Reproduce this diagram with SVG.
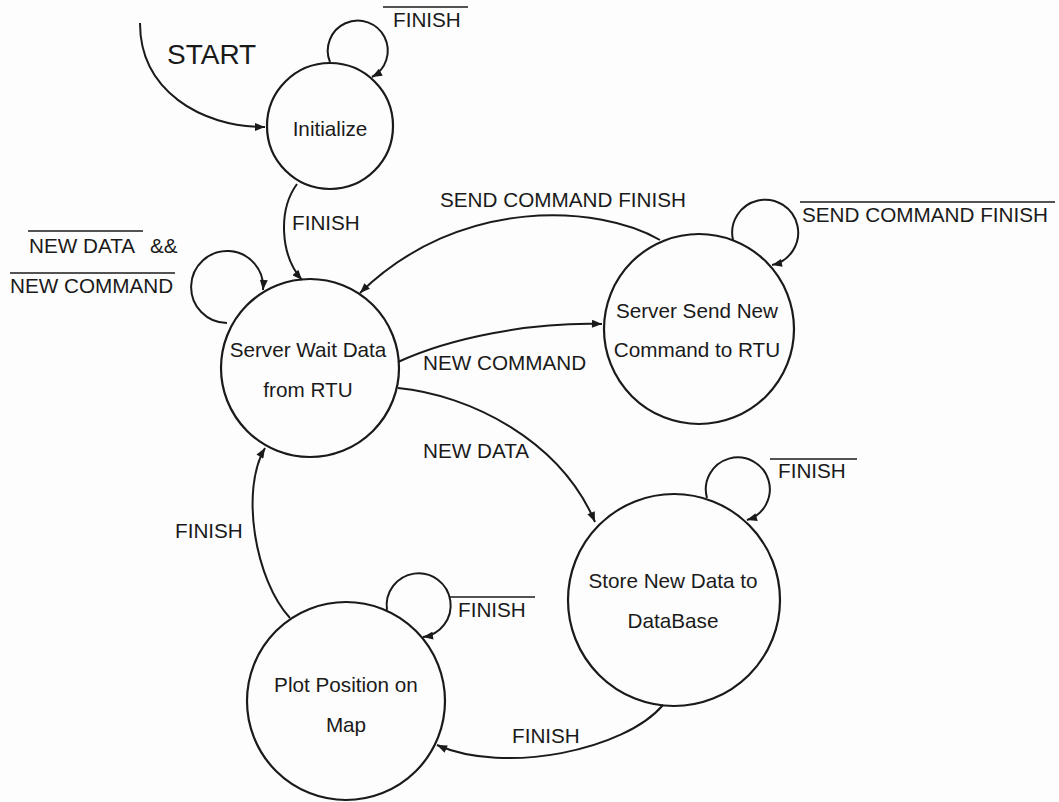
<svg xmlns="http://www.w3.org/2000/svg" width="1059" height="802" viewBox="0 0 1059 802">
<style>
.n{fill:none;stroke:#1a1a1a;stroke-width:2.2}
.c{fill:none;stroke:#1a1a1a;stroke-width:2}
.t{font-family:"Liberation Sans",Arial,sans-serif;font-size:20.7px;fill:#1a1a1a}
.m{text-anchor:middle}
.o{stroke:#1a1a1a;stroke-width:1.6}
</style>
<defs>
<marker id="a" markerUnits="userSpaceOnUse" viewBox="0 0 10 8" markerWidth="11" markerHeight="8" refX="10" refY="4" orient="auto">
<path d="M0,0 L10,4 L0,8 Z" fill="#1a1a1a"/>
</marker>
</defs>
<rect width="1059" height="802" fill="#fdfdfd"/>
<g id="connectors">
<path class="c" d="M140,23 C140,90 200,127 265,127" marker-end="url(#a)"/>
<path class="c" d="M330,62 A30,30 0 1 1 372,77" marker-end="url(#a)"/>
<path class="c" d="M297,184 C278,210 280,255 302,280" marker-end="url(#a)"/>
<path class="c" d="M227,323 A36,36 0 1 1 263,290" marker-end="url(#a)"/>
<path class="c" d="M660,240 C600,205 460,195 360,293" marker-end="url(#a)"/>
<path class="c" d="M733,240 A33,33 0 1 1 772,265" marker-end="url(#a)"/>
<path class="c" d="M398,362 C450,338 530,322 602,324" marker-end="url(#a)"/>
<path class="c" d="M398,388 C470,395 560,440 595,522" marker-end="url(#a)"/>
<path class="c" d="M707,498 A32,32 0 1 1 747,520" marker-end="url(#a)"/>
<path class="c" d="M663,705 C625,750 505,775 437,745" marker-end="url(#a)"/>
<path class="c" d="M387,610 A32,32 0 1 1 423,637" marker-end="url(#a)"/>
<path class="c" d="M290,618 C255,580 240,490 265,448" marker-end="url(#a)"/>
<text class="t" x="167" y="64" style="font-size:28px">START</text>
<line class="o" x1="383" y1="7" x2="468" y2="7"/>
<text class="t" x="393" y="27">FINISH</text>
<text class="t" x="292" y="230">FINISH</text>
<line class="o" x1="28" y1="231" x2="143" y2="231"/>
<text class="t" x="29" y="253">NEW DATA</text>
<text class="t" x="150" y="253">&amp;&amp;</text>
<line class="o" x1="10" y1="273" x2="175" y2="273"/>
<text class="t" x="10" y="293">NEW COMMAND</text>
<text class="t" x="440" y="207">SEND COMMAND FINISH</text>
<line class="o" x1="800" y1="202" x2="1055" y2="202"/>
<text class="t" x="802" y="222">SEND COMMAND FINISH</text>
<text class="t" x="423" y="370">NEW COMMAND</text>
<text class="t" x="423" y="458">NEW DATA</text>
<line class="o" x1="770" y1="459" x2="857" y2="459"/>
<text class="t" x="778" y="478">FINISH</text>
<text class="t" x="175" y="538">FINISH</text>
<line class="o" x1="450" y1="597" x2="535" y2="597"/>
<text class="t" x="458" y="617">FINISH</text>
<text class="t" x="512" y="743">FINISH</text>
</g>
<g id="initialize">
<circle class="n" cx="330" cy="126" r="63"/>
<text class="t m" x="330" y="136">Initialize</text>
</g>
<g id="server-wait">
<circle class="n" cx="310" cy="368" r="89"/>
<text class="t m" x="308" y="357">Server Wait Data</text>
<text class="t m" x="308" y="397">from RTU</text>
</g>
<g id="server-send">
<circle class="n" cx="699" cy="329" r="95"/>
<text class="t m" x="697" y="318">Server Send New</text>
<text class="t m" x="697" y="357">Command to RTU</text>
</g>
<g id="store">
<circle class="n" cx="674" cy="600" r="106"/>
<text class="t m" x="673" y="588">Store New Data to</text>
<text class="t m" x="673" y="628">DataBase</text>
</g>
<g id="plot">
<circle class="n" cx="346" cy="701" r="99"/>
<text class="t m" x="346" y="692">Plot Position on</text>
<text class="t m" x="346" y="732">Map</text>
</g>
</svg>
